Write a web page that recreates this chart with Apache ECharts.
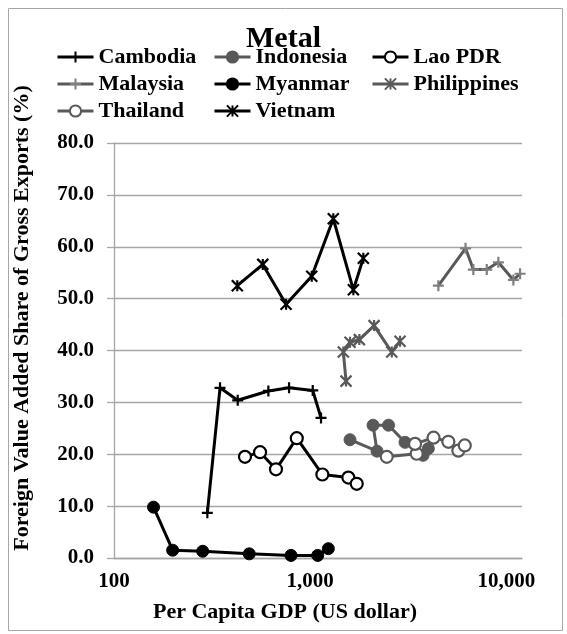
<!DOCTYPE html>
<html>
<head>
<meta charset="utf-8">
<script src="https://cdn.jsdelivr.net/npm/echarts@6/dist/echarts.min.js"></script>
<style>
html,body{margin:0;padding:0;background:#fff;}
#chart{width:567px;height:634px;}
</style>
</head>
<body>
<div id="chart"></div>
<script>
// ---- Data (Per capita GDP in US$, FVA share in %) ----
const cambodiaGDP = [299, 347, 427, 612, 780, 1030, 1135];
const cambodiaFVA = [8.7, 32.8, 30.4, 32.2, 32.8, 32.3, 27.0];
const indonesiaGDP = [1595, 2190, 2090, 2506, 3042, 3757, 3998];
const indonesiaFVA = [22.8, 20.6, 25.6, 25.6, 22.3, 19.8, 21.1];
const laoGDP = [465, 555, 669, 854, 1153, 1564, 1726];
const laoFVA = [19.5, 20.4, 17.1, 23.1, 16.1, 15.5, 14.3];
const malaysiaGDP = [4498, 6187, 6781, 7936, 9094, 10845, 11732];
const malaysiaFVA = [52.5, 59.7, 55.6, 55.6, 57.0, 53.6, 54.8];
const myanmarGDP = [159, 199, 283, 489, 798, 1092, 1237];
const myanmarFVA = [9.8, 1.5, 1.3, 0.8, 0.5, 0.5, 1.8];
const philippinesGDP = [1522, 1475, 1595, 1780, 2115, 2603, 2869];
const philippinesFVA = [34.1, 39.7, 41.6, 42.1, 44.8, 39.7, 41.8];
const thailandGDP = [2454, 3488, 3421, 4250, 5057, 5686, 6131];
const thailandFVA = [19.5, 20.1, 22.0, 23.2, 22.4, 20.7, 21.7];
const vietnamGDP = [425, 573, 753, 1018, 1311, 1659, 1865];
const vietnamFVA = [52.5, 56.6, 48.9, 54.3, 65.4, 51.7, 57.8];

const yTicks = [0, 10, 20, 30, 40, 50, 60, 70, 80];
const xTickLabels = ['100', '1,000', '10,000'];

const FONT = 'Liberation Serif';
const BLACK = '#000000';
const GRAY = '#595959';

const PLUS = 'path://M5,0L5,10M0,5L10,5';
const STAR = 'path://M0,0L10,10M10,0L0,10M5,0L5,10';

function pairs(xs, ys) { return xs.map((x, i) => [x, ys[i]]); }

function mk(name, xs, ys, lineColor, symbol, size, fill, stroke, bw) {
  return {
    name: name,
    type: 'line',
    data: pairs(xs, ys),
    symbol: symbol,
    symbolSize: size,
    showAllSymbol: true,
    lineStyle: { color: lineColor, width: 3 },
    itemStyle: { color: fill, borderColor: stroke, borderWidth: bw },
    emphasis: { disabled: true },
    z: 3
  };
}

const series = [
  mk('Cambodia', cambodiaGDP, cambodiaFVA, BLACK, PLUS, 11, 'none', BLACK, 2.2),
  mk('Indonesia', indonesiaGDP, indonesiaFVA, GRAY, 'circle', 12, GRAY, GRAY, 1),
  mk('Lao PDR', laoGDP, laoFVA, BLACK, 'circle', 12, '#ffffff', BLACK, 2.2),
  mk('Malaysia', malaysiaGDP, malaysiaFVA, GRAY, PLUS, 11, 'none', '#7f7f7f', 2.2),
  mk('Myanmar', myanmarGDP, myanmarFVA, BLACK, 'circle', 12, BLACK, BLACK, 1),
  mk('Philippines', philippinesGDP, philippinesFVA, GRAY, STAR, 11, 'none', GRAY, 2.2),
  mk('Thailand', thailandGDP, thailandFVA, GRAY, 'circle', 12, '#ffffff', GRAY, 2.2),
  mk('Vietnam', vietnamGDP, vietnamFVA, BLACK, STAR, 11, 'none', BLACK, 2.2)
];

const legendText = { fontFamily: FONT, fontWeight: 'bold', fontSize: 22, color: '#000' };
function legendCol(names, left) {
  return {
    data: names,
    orient: 'vertical',
    left: left,
    top: 41,
    itemWidth: 36,
    itemHeight: 14,
    itemGap: 5,
    textStyle: legendText,
    lineStyle: { width: 3 },
    selectedMode: false
  };
}

const chart = echarts.init(document.getElementById('chart'), null, { renderer: 'canvas' });
chart.setOption({
  animation: false,
  backgroundColor: '#ffffff',
  title: {
    text: 'Metal',
    left: 'center',
    top: 19,
    textStyle: { fontFamily: FONT, fontWeight: 'bold', fontSize: 30, color: '#000' }
  },
  legend: [
    legendCol(['Cambodia', 'Malaysia', 'Thailand'], 51),
    legendCol(['Indonesia', 'Myanmar', 'Vietnam'], 208),
    legendCol(['Lao PDR', 'Philippines'], 366)
  ],
  grid: { left: 114, right: 45, top: 143, bottom: 76, containLabel: false },
  xAxis: {
    type: 'log',
    logBase: 10,
    min: 100,
    max: 12000,
    axisLine: { show: true, lineStyle: { color: '#a6a6a6', width: 1.3 } },
    axisTick: { show: false },
    splitLine: { show: false },
    axisLabel: {
      margin: 13,
      fontFamily: FONT, fontWeight: 'bold', fontSize: 21, color: '#000',
      formatter: function (v) {
        const l = Math.log10(v);
        if (Math.abs(l - Math.round(l)) > 1e-6) return '';
        const idx = Math.round(l) - 2;
        return xTickLabels[idx] || '';
      }
    }
  },
  yAxis: {
    type: 'value',
    min: yTicks[0],
    max: yTicks[yTicks.length - 1],
    interval: 10,
    axisLine: { show: true, lineStyle: { color: '#a6a6a6', width: 1.3 } },
    axisTick: { show: true, length: 7, lineStyle: { color: '#a6a6a6', width: 1.3 } },
    splitLine: { show: true, lineStyle: { color: '#a6a6a6', width: 1.3 } },
    axisLabel: {
      margin: 20,
      fontFamily: FONT, fontWeight: 'bold', fontSize: 21, color: '#000',
      formatter: function (v) { return v.toFixed(1); }
    }
  },
  graphic: [
    {
      type: 'rect', left: 6, top: 6, z: -1,
      shape: { width: 554, height: 622 },
      style: { fill: 'none', stroke: '#a6a6a6', lineWidth: 1 }
    },
    {
      type: 'text', x: 22, y: 318, rotation: Math.PI / 2,
      style: {
        text: 'Foreign Value Added Share of Gross Exports (%)',
        fontFamily: FONT, fontWeight: 'bold', fontSize: 22, fill: '#000',
        align: 'center', verticalAlign: 'middle'
      }
    },
    {
      type: 'text', x: 285, y: 612,
      style: {
        text: 'Per Capita GDP (US dollar)',
        fontFamily: FONT, fontWeight: 'bold', fontSize: 22, fill: '#000',
        align: 'center', verticalAlign: 'middle'
      }
    }
  ],
  series: series
});
</script>
</body>
</html>
